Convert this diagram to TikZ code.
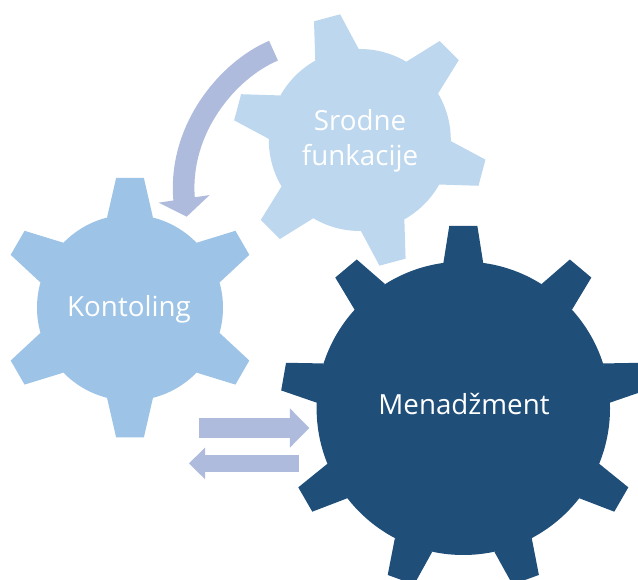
\documentclass[tikz,border=0pt]{standalone}
\usepackage{fontspec}
\setmainfont{Open Sans}
\usepackage{tikz}
\usetikzlibrary{arrows.meta,bending}
\definecolor{kontcol}{HTML}{9DC3E6}
\definecolor{srodcol}{HTML}{BDD7EE}
\definecolor{mencol}{HTML}{1F4E79}
\definecolor{arrcol}{HTML}{AFBBDD}
\tikzset{
    gearlabel/.style={text=white, font=\fontsize{20.8pt}{26pt}\selectfont, align=center},
    flowarrow/.style={draw=arrcol}
}
% #1 centre, #2 colour, #3 body radius, #4 tip radius, #5 teeth, #6 phase, #7 base half angle, #8 tip half angle
\newcommand{\gearshape}[8]{
    \begin{scope}[shift={(#1)}]
        \fill[#2] (0,0) circle (#3);
        \foreach \i in {1,...,#5} {
            \pgfmathsetmacro{\a}{#6+360/#5*(\i-1)}
            \fill[#2] (\a-#7:#3) -- (\a-#8:#4) -- (\a+#8:#4) -- (\a+#7:#3) -- cycle;
        }
    \end{scope}
}

\begin{document}
\begin{tikzpicture}[x=0.75pt, y=0.75pt]
    \clip (0,0) rectangle (638,580);

    \gearshape{130,272.3}{kontcol}{93}{130.5}{6}{30}{14.3}{6.1}
    \gearshape{359.8,440}{srodcol}{91}{127.2}{6}{45}{14.3}{6.1}
    \gearshape{463.3,171.7}{mencol}{146.7}{183}{9}{90}{7.8}{4.4}

    \node[gearlabel] (kontoling) at (129,271) {Kontoling};
    \node[gearlabel] (srodne) at (360,439) {Srodne\\funkacije};
    \node[gearlabel] (menadzment) at (464,176) {Menadžment};

    \coordinate (curvestart) at (273.5,529.3);
    \coordinate (curveend) at (186.7,363.3);
    \coordinate (rightstart) at (199,152);
    \coordinate (rightend) at (309.3,152);
    \coordinate (leftstart) at (299,116.6);
    \coordinate (leftend) at (189,116.6);

    \draw[flowarrow, line width=16.2pt, -{Triangle[length=13.5pt, width=38pt, flex]}]
        (curvestart) .. controls (224.5,508.6) and (170,441.3) .. (curveend);
    \draw[flowarrow, line width=14.6pt, -{Triangle[length=14.5pt, width=28.5pt]}] (rightstart) -- (rightend);
    \draw[flowarrow, line width=12.5pt, -{Triangle[length=12pt, width=23pt]}] (leftstart) -- (leftend);
\end{tikzpicture}
\end{document}
